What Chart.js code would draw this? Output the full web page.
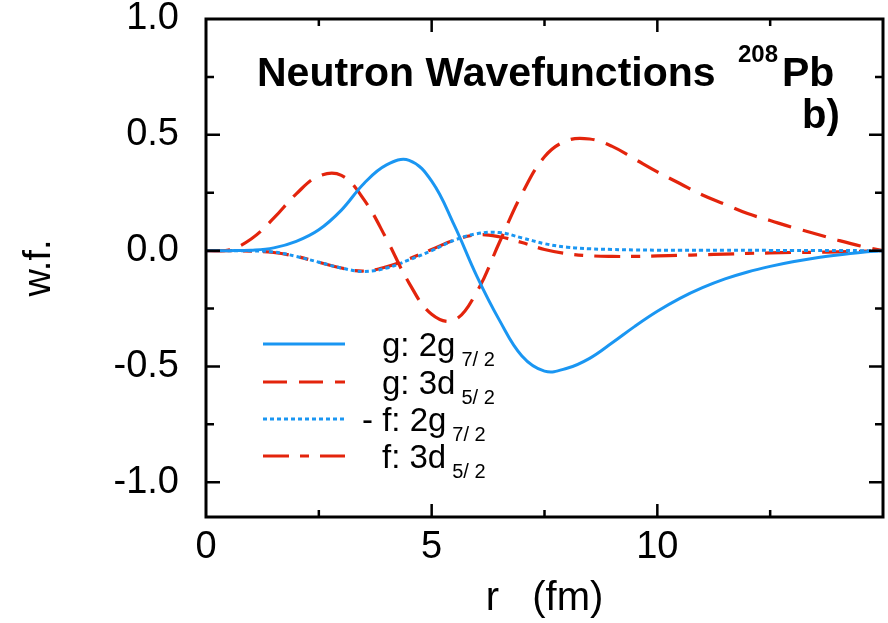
<!doctype html>
<html lang="en">
<head>
  <meta charset="utf-8">
  <title>Neutron Wavefunctions 208Pb</title>
  <style>
    html, body { margin: 0; padding: 0; background: #fff; }
    #wrap { width: 888px; height: 623px; position: relative; }
  </style>
</head>
<body>
  <div id="wrap">
    <canvas id="grafico"></canvas>
  </div>

  <script src="https://cdn.jsdelivr.net/npm/chart.js"></script>
  <script>
    // radius grid (fm)
    const rVals = [0, 0.5, 1, 1.5, 2, 2.5, 3, 3.5, 4, 4.5, 5, 5.5, 6, 6.5, 7, 7.5,
                   8, 8.5, 9, 9.5, 10, 10.5, 11, 11.5, 12, 12.5, 13, 13.5, 14, 14.5, 15];
    // g: 2g7/2
    const g2g = [0, 0, 0.002, 0.012, 0.04, 0.09, 0.175, 0.29, 0.37, 0.39, 0.3, 0.11, -0.11,
                 -0.3, -0.455, -0.52, -0.508, -0.465, -0.398, -0.327, -0.262, -0.206, -0.16,
                 -0.122, -0.092, -0.068, -0.048, -0.032, -0.019, -0.008, 0];
    // g: 3d5/2
    const g3d = [0, 0.003, 0.05, 0.14, 0.245, 0.322, 0.325, 0.22, 0.05, -0.14, -0.275, -0.3,
                 -0.178, 0.035, 0.245, 0.405, 0.475, 0.482, 0.45, 0.395, 0.34, 0.29, 0.24,
                 0.2, 0.16, 0.13, 0.1, 0.073, 0.045, 0.02, 0];
    // -f: 2g7/2
    const f2g = [0, 0, -0.001, -0.006, -0.025, -0.05, -0.075, -0.09, -0.075, -0.04, 0.0,
                 0.045, 0.073, 0.078, 0.055, 0.03, 0.015, 0.008, 0.005, 0.003, 0.002, 0.002,
                 0.002, 0.002, 0.002, 0.001, 0.001, 0.001, 0.001, 0, 0];
    // f: 3d5/2
    const f3d = [0, 0, -0.002, -0.008, -0.025, -0.05, -0.075, -0.088, -0.07, -0.035, 0.005,
                 0.045, 0.068, 0.06, 0.035, 0.005, -0.013, -0.022, -0.025, -0.025, -0.023,
                 -0.02, -0.018, -0.015, -0.012, -0.01, -0.008, -0.007, -0.005, -0.003, 0];

    const xTicks = [0, 5, 10];
    const yTicks = [-1.0, -0.5, 0.0, 0.5, 1.0];
    const xMajor = [5, 10];
    const xMinor = [2.5, 7.5, 12.5];
    const yMajor = [-1.0, -0.5, 0.0, 0.5];
    const yMinor = [-0.75, -0.25, 0.25, 0.75];

    const legendNames = ['g: 2g', 'g: 3d', '- f: 2g', 'f: 3d'];
    const legendSubs = ['7/ 2', '5/ 2', '7/ 2', '5/ 2'];

    const azul = '#1a96f2';
    const rojo = '#e3240c';
    const familia = '"Liberation Sans", Arial, sans-serif';

    const puntos = arr => rVals.map((r, i) => ({ x: r, y: arr[i] }));

    function texto(ctx, str, x, y, font) {
      ctx.font = font;
      ctx.fillText(str, x, y);
      return ctx.measureText(str).width;
    }

    const marco = {
      id: 'marco',
      afterDatasetsDraw(chart) {
        const { ctx, chartArea: a, scales: { x, y } } = chart;
        ctx.save();
        ctx.strokeStyle = '#000';
        ctx.lineWidth = 3;
        ctx.setLineDash([]);
        ctx.strokeRect(a.left, a.top, a.right - a.left, a.bottom - a.top);
        ctx.lineWidth = 2.5;
        ctx.beginPath();
        const tickX = (vals, len) => {
          vals.forEach(v => {
            const px = x.getPixelForValue(v);
            ctx.moveTo(px, a.bottom); ctx.lineTo(px, a.bottom - len);
            ctx.moveTo(px, a.top); ctx.lineTo(px, a.top + len);
          });
        };
        const tickY = (vals, len) => {
          vals.forEach(v => {
            const py = y.getPixelForValue(v);
            ctx.moveTo(a.left, py); ctx.lineTo(a.left + len, py);
            ctx.moveTo(a.right, py); ctx.lineTo(a.right - len, py);
          });
        };
        tickX(xMajor, 13); tickX(xMinor, 7);
        tickY(yMajor, 14); tickY(yMinor, 8);
        ctx.stroke();

        // title inside plot
        ctx.fillStyle = '#000';
        ctx.textBaseline = 'alphabetic';
        texto(ctx, 'Neutron Wavefunctions', 257, 86, 'bold 41px ' + familia);
        texto(ctx, '208', 738, 62, 'bold 24px ' + familia);
        texto(ctx, 'Pb', 782, 86, 'bold 41px ' + familia);
        texto(ctx, 'b)', 802, 128, 'bold 40px ' + familia);

        // legend
        const ys = [344, 382, 419, 456];
        const tx = [382, 382, 362, 382];
        chart.data.datasets.forEach((ds, i) => {
          ctx.strokeStyle = ds.borderColor;
          ctx.lineWidth = ds.borderWidth;
          ctx.setLineDash(ds.borderDash || []);
          ctx.beginPath();
          ctx.moveTo(263, ys[i]); ctx.lineTo(345, ys[i]);
          ctx.stroke();
          ctx.setLineDash([]);
          const w = texto(ctx, legendNames[i], tx[i], ys[i] + 12, '33px ' + familia);
          texto(ctx, legendSubs[i], tx[i] + w + 6, ys[i] + 22, '20px ' + familia);
        });
        ctx.restore();
      }
    };

    const lienzo = document.getElementById('grafico');
    const fuenteEje = { family: familia, size: 38 };

    new Chart(lienzo, {
      type: 'line',
      data: {
        datasets: [
          { label: 'g: 2g7/2', data: puntos(g2g), borderColor: azul, borderWidth: 3, borderDash: [] },
          { label: 'g: 3d5/2', data: puntos(g3d), borderColor: rojo, borderWidth: 3.2, borderDash: [24, 12] },
          { label: '- f: 2g7/2', data: puntos(f2g), borderColor: azul, borderWidth: 3, borderDash: [4, 3] },
          { label: 'f: 3d5/2', data: puntos(f3d), borderColor: rojo, borderWidth: 3.2, borderDash: [26, 11, 9, 11] }
        ]
      },
      options: {
        responsive: true,
        maintainAspectRatio: false,
        animation: false,
        layout: { padding: { top: 19, right: 5, left: 0, bottom: 0 } },
        elements: { point: { radius: 0 }, line: { tension: 0.4, fill: false } },
        scales: {
          x: {
            type: 'linear',
            min: 0,
            max: 15,
            afterBuildTicks: s => { s.ticks = xTicks.map(v => ({ value: v })); },
            afterFit: s => { s.height = 106; s.paddingLeft = 0; s.paddingRight = 0; },
            grid: { display: false, drawTicks: false },
            border: { display: false },
            ticks: { color: '#000', font: fuenteEje, padding: 8, maxRotation: 0, callback: v => String(v) },
            title: { display: true, text: 'r   (fm)', color: '#000', font: { family: familia, size: 40 }, padding: { top: 0, bottom: 0 } }
          },
          y: {
            type: 'linear',
            min: -1.15,
            max: 1.0,
            afterBuildTicks: s => { s.ticks = yTicks.map(v => ({ value: v })); },
            afterFit: s => { s.width = 206; s.paddingTop = 0; s.paddingBottom = 0; },
            grid: { display: false, drawTicks: false },
            border: { display: false },
            ticks: { color: '#000', font: fuenteEje, padding: 27, callback: v => Number(v).toFixed(1) },
            title: { display: true, text: 'w.f.', color: '#000', font: fuenteEje, padding: { top: 17, bottom: 0 } }
          }
        },
        plugins: {
          legend: { display: false },
          title: { display: false },
          tooltip: { enabled: false }
        }
      },
      plugins: [marco]
    });
  </script>
</body>
</html>
